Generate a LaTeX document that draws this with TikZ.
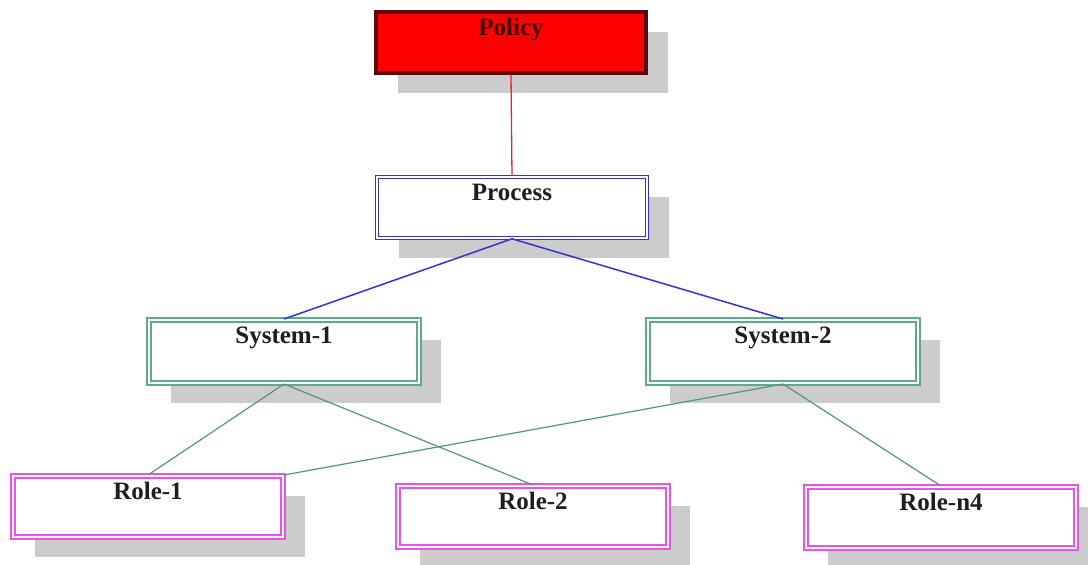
\documentclass[tikz,border=0pt]{standalone}
\usepackage{fontspec}
\setmainfont{Liberation Serif}
\usetikzlibrary{shadows}
\definecolor{policyfill}{RGB}{255,0,0}
\definecolor{policyrim}{RGB}{90,10,10}
\definecolor{processrim}{RGB}{50,50,220}
\definecolor{systemrim}{RGB}{95,170,135}
\definecolor{rolerim}{RGB}{238,80,238}
\definecolor{shadowgray}{RGB}{204,204,204}
\definecolor{labelgray}{RGB}{30,30,30}
\definecolor{policyline}{RGB}{225,40,40}
\definecolor{systemline}{RGB}{80,150,120}

\begin{document}
\begin{tikzpicture}[x=1pt,y=-1pt,
	box/.style={rectangle,inner sep=0pt,minimum width=270pt,text height=23pt,text depth=38pt,
		font=\fontsize{25}{30}\selectfont\bfseries,text=labelgray,
		drop shadow={shadow xshift=22pt,shadow yshift=-20pt,fill=shadowgray,opacity=1}},
	policy node/.style={box,fill=policyfill,draw=policyrim,line width=3.5pt,text=policyrim!70!black},
	process node/.style={box,fill=white,draw=processrim,line width=1.6pt,double=white,double distance=1.5pt},
	system node/.style={box,fill=white,draw=systemrim,line width=2pt,double=white,double distance=1.5pt,text depth=40pt},
	role node/.style={box,fill=white,draw=rolerim,line width=2pt,double=white,double distance=1.5pt}]
	
	\useasboundingbox (0,0) rectangle (1088,565);
	
	\node[policy node] (policy) at (511,42.5) {Policy};
	\node[process node] (process) at (512,207.5) {Process};
	\node[system node] (sys1) at (284,351.5) {System-1};
	\node[system node] (sys2) at (783,351.5) {System-2};
	\node[role node] (role1) at (148,506.5) {Role-1};
	\node[role node] (role2) at (533,516.5) {Role-2};
	\node[role node] (rolen4) at (941,517.5) {Role-n4};
	
	\path[draw=policyline,line width=1.3pt] (policy.south) edge (process.north);
	
	\path[draw=processrim,line width=1.5pt] (process.south) edge (sys1.north);
	\path[draw=processrim,line width=1.5pt] (process.south) edge (sys2.north);
	
	\path[draw=systemline,line width=1.2pt] (sys1.south) edge (role1.north);
	\path[draw=systemline,line width=1.2pt] (sys1.south) edge (role2.north);
	\path[draw=systemline,line width=1.2pt] (sys2.south) edge (role1.north east);
	\path[draw=systemline,line width=1.2pt] (sys2.south) edge (rolen4.north);
	
\end{tikzpicture}
\end{document}
